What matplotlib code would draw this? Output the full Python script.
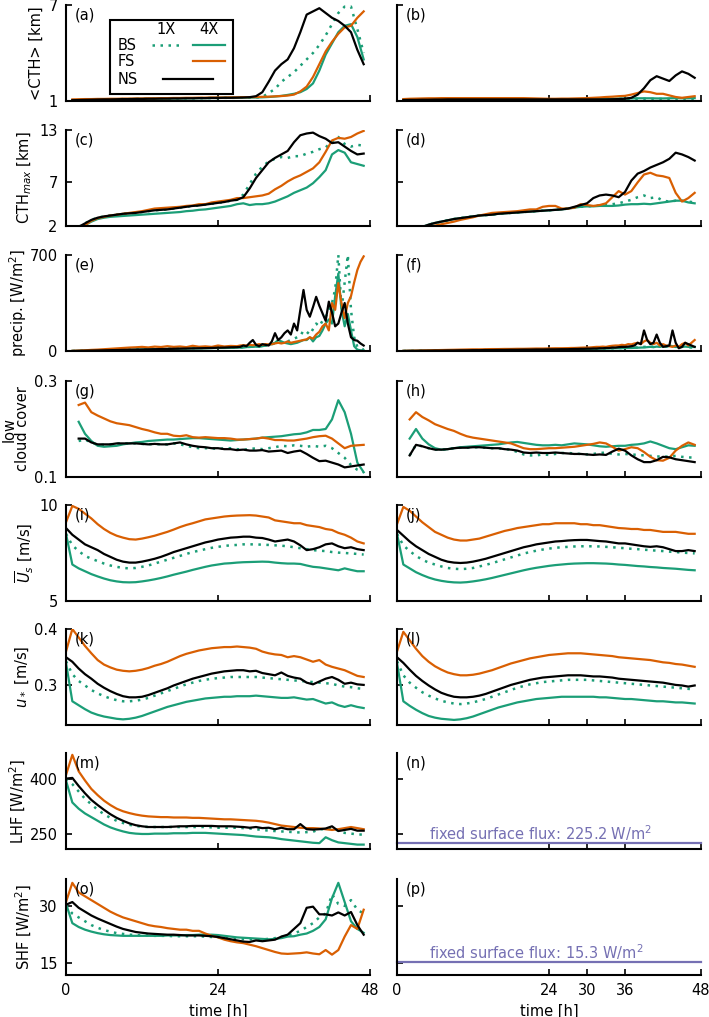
import numpy as np
import matplotlib
matplotlib.use("Agg")
import matplotlib.pyplot as plt
from matplotlib.patches import Rectangle
from matplotlib.lines import Line2D

N = np.nan
T = np.arange(48)  # hourly time axis [h]
T_P = np.concatenate([np.arange(1, 28), np.arange(27.5, 47.5, 0.5)])  # precip time axis

# ---------------- (a) <CTH> left ----------------
a_bs4 = [N,1.05,1.06,1.07,1.08,1.09,1.1,1.1,1.11,1.12,1.12,1.13,1.13,1.14,1.14,1.15,1.15,1.16,1.16,1.17,1.17,1.18,1.18,1.19,1.19,1.2,1.2,1.2,1.21,1.21,1.22,1.23,1.25,1.28,1.32,1.38,1.45,1.55,1.75,2.1,2.9,3.9,4.6,5.3,5.7,5.8,5.0,3.6]
a_bs1 = [N,1.05,1.06,1.07,1.08,1.09,1.1,1.1,1.11,1.12,1.12,1.13,1.13,1.14,1.14,1.15,1.15,1.16,1.16,1.17,1.17,1.18,1.18,1.19,1.19,1.2,1.2,1.2,1.21,1.21,1.22,1.25,1.5,1.75,2.2,2.5,2.8,3.2,3.6,4.0,4.5,5.1,5.8,6.5,6.9,6.9,5.5,4.0]
a_fs4 = [N,1.1,1.11,1.12,1.12,1.13,1.13,1.14,1.14,1.15,1.15,1.16,1.16,1.17,1.17,1.18,1.18,1.19,1.19,1.2,1.2,1.21,1.21,1.22,1.22,1.22,1.23,1.23,1.24,1.24,1.25,1.26,1.27,1.29,1.31,1.34,1.4,1.6,1.9,2.5,3.3,4.1,4.7,5.2,5.6,5.7,6.2,6.6]
a_ns = [N,1.05,1.06,1.07,1.08,1.09,1.1,1.1,1.11,1.12,1.12,1.13,1.13,1.14,1.14,1.15,1.15,1.16,1.16,1.17,1.17,1.18,1.18,1.19,1.19,1.2,1.2,1.21,1.22,1.24,1.3,1.55,2.2,2.9,3.3,3.6,4.3,5.3,6.4,6.6,6.8,6.5,6.2,6.0,5.7,5.3,4.2,3.3]

# ---------------- (b) <CTH> right ----------------
b_bs4 = [N,1.08,1.08,1.09,1.09,1.1,1.1,1.1,1.1,1.1,1.1,1.1,1.1,1.1,1.1,1.1,1.1,1.1,1.1,1.1,1.1,1.1,1.1,1.1,1.1,1.1,1.1,1.1,1.1,1.1,1.1,1.12,1.12,1.13,1.14,1.15,1.15,1.16,1.17,1.17,1.17,1.16,1.16,1.17,1.18,1.17,1.17,1.18]
b_bs1 = [N,1.08,1.08,1.09,1.09,1.1,1.1,1.1,1.1,1.1,1.1,1.1,1.1,1.1,1.1,1.1,1.1,1.1,1.1,1.1,1.1,1.1,1.1,1.1,1.1,1.1,1.1,1.1,1.1,1.1,1.1,1.11,1.11,1.12,1.12,1.13,1.13,1.14,1.14,1.14,1.13,1.13,1.13,1.12,1.12,1.12,1.12,1.12]
b_fs4 = [N,1.12,1.14,1.15,1.16,1.17,1.17,1.18,1.18,1.18,1.18,1.18,1.18,1.18,1.18,1.18,1.18,1.18,1.18,1.18,1.18,1.17,1.16,1.15,1.14,1.14,1.15,1.15,1.16,1.17,1.18,1.2,1.22,1.25,1.27,1.3,1.32,1.4,1.5,1.6,1.55,1.45,1.45,1.35,1.25,1.2,1.25,1.3]
b_ns = [N,1.06,1.07,1.07,1.08,1.08,1.09,1.09,1.1,1.1,1.1,1.1,1.1,1.1,1.1,1.1,1.1,1.1,1.1,1.1,1.1,1.1,1.1,1.1,1.1,1.1,1.1,1.1,1.1,1.1,1.1,1.1,1.1,1.1,1.11,1.12,1.14,1.2,1.4,1.8,2.3,2.55,2.4,2.25,2.6,2.85,2.7,2.45]

# ---------------- (c) CTH_max left ----------------
c_bs4 = [N,N,1.8,2.1,2.5,2.8,2.95,3.05,3.1,3.15,3.2,3.25,3.3,3.35,3.4,3.45,3.5,3.55,3.6,3.7,3.75,3.85,3.9,4.0,4.1,4.2,4.3,4.5,4.6,4.4,4.5,4.5,4.6,4.8,5.1,5.4,5.8,6.1,6.4,6.9,7.6,8.4,10.2,10.7,10.4,9.3,9.1,8.9]
c_bs1 = [N,N,1.9,2.3,2.7,2.95,3.1,3.2,3.3,3.4,3.45,3.5,3.6,3.7,3.8,3.85,3.9,4.0,4.1,4.2,4.3,4.35,4.45,4.55,4.65,4.75,4.9,5.0,5.6,6.8,8.0,8.8,9.4,9.7,9.9,9.8,10.0,10.0,10.3,10.5,10.8,11.0,11.7,12.2,11.4,11.1,11.3,11.2]
c_fs4 = [N,N,1.8,2.1,2.6,2.9,3.05,3.2,3.3,3.4,3.5,3.6,3.7,3.85,4.0,4.05,4.1,4.15,4.2,4.3,4.35,4.5,4.5,4.7,4.8,4.9,5.0,5.2,5.2,5.3,5.4,5.5,5.7,6.2,6.6,7.1,7.5,7.8,8.2,8.6,9.3,10.5,11.8,12.1,12.0,12.2,12.6,12.9]
c_ns = [N,N,1.9,2.3,2.7,2.95,3.1,3.2,3.3,3.4,3.45,3.5,3.6,3.7,3.8,3.85,3.9,4.0,4.1,4.2,4.3,4.35,4.45,4.55,4.65,4.75,4.9,5.0,5.3,6.3,7.5,8.4,9.3,9.8,10.2,10.6,11.6,12.4,12.6,12.7,12.3,12.0,11.5,11.6,11.1,10.6,10.2,10.3]

# ---------------- (d) CTH_max right ----------------
d_bs4 = [N,N,N,N,1.9,2.15,2.35,2.5,2.65,2.8,2.9,3.0,3.1,3.2,3.25,3.3,3.4,3.45,3.5,3.55,3.6,3.65,3.7,3.75,3.8,3.85,3.9,4.0,4.1,4.2,4.25,4.25,4.3,4.3,4.3,4.35,4.45,4.5,4.5,4.55,4.5,4.6,4.7,4.8,4.9,4.9,4.7,4.6]
d_bs1 = [N,N,N,N,1.9,2.15,2.35,2.5,2.65,2.8,2.9,3.0,3.1,3.2,3.25,3.3,3.4,3.45,3.5,3.55,3.6,3.65,3.7,3.75,3.8,3.85,3.9,4.0,4.1,4.2,4.25,4.3,4.35,4.4,4.5,4.6,4.8,5.0,5.3,5.5,5.2,5.3,4.9,4.8,4.9,4.9,4.8,4.7]
d_fs4 = [N,N,N,N,N,1.9,2.05,2.2,2.35,2.5,2.7,2.85,3.0,3.2,3.35,3.5,3.55,3.6,3.65,3.7,3.8,3.9,3.9,4.2,4.3,4.3,4.0,4.0,4.1,4.5,4.4,4.3,4.4,4.6,5.3,6.0,5.6,6.0,7.0,7.9,8.1,7.8,7.7,7.5,5.8,4.8,5.2,5.8]
d_ns = [N,N,N,N,1.9,2.15,2.35,2.5,2.65,2.8,2.9,3.0,3.1,3.2,3.25,3.3,3.4,3.45,3.5,3.55,3.6,3.65,3.7,3.75,3.8,3.85,3.9,4.0,4.2,4.4,4.6,5.2,5.5,5.6,5.5,5.3,5.9,7.2,8.0,8.3,8.7,9.0,9.3,9.7,10.4,10.2,9.9,9.5]

# ---------------- (e) precip left ----------------
e_bs4 = [0,1,2,3,4,5,6,7,8,9,10,11,12,13,14,15,16,17,18,19,19,20,21,22,22,23,24,
         25,25,28,30,30,32,30,35,40,45,50,60,80,70,60,55,50,55,60,70,80,80,100,70,100,110,150,200,230,200,400,565,300,180,270,150,35,10,5,5]
e_bs1 = [0,1,2,3,5,6,7,8,10,11,12,13,14,15,16,17,18,19,20,21,22,23,24,25,26,26,25,
         25,28,30,30,32,35,35,40,40,45,50,55,60,60,70,70,80,90,100,110,150,140,120,160,200,180,220,250,300,350,450,700,300,500,700,300,100,30,20,10]
e_fs4 = [1,3,5,8,10,13,16,19,22,25,27,30,26,32,29,35,30,33,28,38,31,34,30,40,33,37,35,
         40,42,40,45,42,45,50,45,50,48,50,55,60,55,60,70,60,65,70,75,80,85,100,90,120,140,180,200,150,350,300,495,350,240,350,400,500,590,650,690]
e_ns = [0,1,2,3,4,5,6,7,8,9,10,11,12,13,14,15,16,17,18,19,20,21,22,24,25,27,28,
        30,40,35,60,80,45,35,50,45,40,70,130,80,100,130,150,120,200,150,300,445,300,250,320,395,330,275,220,360,280,180,200,280,350,200,100,80,75,55,40]

# ---------------- (f) precip right ----------------
f_bs4 = [0,1,1,2,2,3,3,4,4,5,5,6,6,7,7,8,8,9,9,10,10,11,11,12,12,12,13,
         13,13,14,14,15,15,16,16,17,17,18,18,19,19,20,20,21,21,22,22,23,24,25,26,28,30,28,32,30,35,30,40,35,30,28,30,32,30,28,30]
f_bs1 = [0,1,1,2,2,3,3,4,4,5,5,6,6,7,7,8,8,9,9,10,10,11,11,12,12,12,13,
         13,14,14,15,15,16,16,17,17,18,18,19,20,20,21,22,22,23,24,25,25,26,28,30,30,35,30,40,35,30,40,30,40,30,25,30,35,30,25,30]
f_fs4 = [1,2,3,4,5,6,7,8,9,10,11,12,12,13,14,14,15,15,16,16,17,18,18,19,20,20,21,
         22,22,23,24,25,25,26,28,30,30,32,30,35,38,40,40,45,42,50,48,55,60,50,70,80,60,50,60,40,50,40,35,30,40,30,50,60,40,60,80]
f_ns = [0,1,1,2,2,3,3,4,4,5,5,6,6,7,7,8,8,9,9,10,10,11,11,12,12,13,13,
        14,15,15,16,16,17,17,18,18,20,20,22,22,25,25,28,30,30,32,35,40,60,50,150,80,50,60,120,60,30,35,40,150,60,20,30,60,50,40,30]

# ---------------- (g) low cloud cover left ----------------
g_bs4 = [N,N,0.215,0.19,0.175,0.165,0.163,0.164,0.165,0.168,0.17,0.172,0.173,0.175,0.176,0.177,0.178,0.178,0.179,0.18,0.181,0.181,0.18,0.179,0.178,0.177,0.176,0.177,0.178,0.179,0.18,0.182,0.183,0.184,0.185,0.187,0.189,0.19,0.193,0.198,0.198,0.2,0.22,0.26,0.235,0.19,0.13,0.11]
g_bs1 = [N,N,0.175,0.178,0.172,0.167,0.167,0.168,0.17,0.17,0.17,0.17,0.169,0.168,0.169,0.168,0.168,0.17,0.168,0.165,0.162,0.16,0.16,0.16,0.158,0.16,0.16,0.158,0.157,0.158,0.16,0.158,0.16,0.162,0.165,0.164,0.166,0.165,0.163,0.165,0.163,0.165,0.16,0.15,0.14,0.125,0.115,0.11]
g_fs4 = [N,N,0.25,0.255,0.235,0.228,0.222,0.216,0.212,0.21,0.208,0.204,0.2,0.197,0.193,0.19,0.19,0.186,0.185,0.187,0.183,0.182,0.183,0.182,0.181,0.181,0.18,0.178,0.178,0.179,0.18,0.182,0.18,0.177,0.177,0.176,0.176,0.178,0.18,0.183,0.185,0.186,0.18,0.17,0.16,0.165,0.166,0.167]
g_ns = [N,N,0.18,0.18,0.172,0.168,0.168,0.168,0.17,0.17,0.17,0.17,0.169,0.168,0.169,0.168,0.168,0.17,0.172,0.168,0.165,0.163,0.162,0.16,0.16,0.158,0.158,0.156,0.157,0.155,0.155,0.156,0.153,0.154,0.155,0.15,0.153,0.155,0.148,0.14,0.133,0.134,0.13,0.126,0.12,0.122,0.124,0.126]

# ---------------- (h) low cloud cover right ----------------
h_bs4 = [N,N,0.18,0.2,0.18,0.168,0.16,0.157,0.158,0.16,0.162,0.163,0.164,0.165,0.166,0.167,0.168,0.17,0.172,0.173,0.171,0.169,0.167,0.166,0.166,0.167,0.166,0.168,0.17,0.169,0.168,0.166,0.164,0.163,0.164,0.165,0.165,0.167,0.168,0.17,0.174,0.17,0.165,0.16,0.158,0.162,0.166,0.165]
h_bs1 = [N,N,0.145,0.167,0.164,0.16,0.157,0.157,0.158,0.16,0.161,0.161,0.162,0.162,0.161,0.16,0.16,0.158,0.157,0.152,0.147,0.145,0.145,0.147,0.146,0.148,0.15,0.15,0.149,0.148,0.147,0.148,0.15,0.151,0.148,0.147,0.148,0.147,0.146,0.145,0.144,0.143,0.142,0.143,0.144,0.142,0.141,0.14]
h_fs4 = [N,N,0.22,0.235,0.225,0.218,0.21,0.205,0.2,0.196,0.19,0.185,0.182,0.18,0.178,0.176,0.174,0.172,0.17,0.165,0.16,0.158,0.158,0.159,0.16,0.16,0.161,0.162,0.163,0.165,0.167,0.169,0.172,0.17,0.163,0.155,0.158,0.162,0.16,0.152,0.142,0.135,0.134,0.14,0.155,0.165,0.172,0.167]
h_ns = [N,N,0.145,0.167,0.164,0.16,0.157,0.157,0.158,0.16,0.161,0.161,0.162,0.162,0.161,0.16,0.16,0.158,0.157,0.155,0.151,0.15,0.151,0.15,0.15,0.151,0.15,0.149,0.148,0.148,0.147,0.146,0.147,0.146,0.153,0.159,0.155,0.145,0.137,0.131,0.131,0.135,0.142,0.141,0.137,0.135,0.133,0.131]

# ---------------- (i) U_s left ----------------
i_bs4 = [8.5,6.9,6.7,6.55,6.4,6.28,6.17,6.08,6.02,5.98,5.97,5.98,6.02,6.07,6.13,6.2,6.28,6.37,6.45,6.53,6.62,6.7,6.78,6.85,6.9,6.95,6.97,7.0,7.02,7.03,7.04,7.05,7.04,7.0,6.97,6.95,6.95,6.93,6.85,6.78,6.75,6.7,6.65,6.6,6.7,6.62,6.55,6.55]
i_bs1 = [8.5,7.9,7.6,7.35,7.2,7.08,6.95,6.85,6.78,6.72,6.7,6.72,6.78,6.85,6.95,7.05,7.15,7.25,7.35,7.45,7.55,7.62,7.7,7.77,7.82,7.87,7.9,7.92,7.95,7.95,7.95,7.93,7.92,7.9,7.88,7.85,7.8,7.75,7.7,7.65,7.62,7.6,7.55,7.52,7.5,7.48,7.45,7.42]
i_fs4 = [9.1,9.95,9.8,9.55,9.3,9.0,8.75,8.55,8.4,8.3,8.22,8.2,8.25,8.32,8.4,8.5,8.6,8.72,8.85,8.96,9.05,9.15,9.25,9.3,9.35,9.4,9.43,9.45,9.46,9.47,9.45,9.4,9.35,9.2,9.15,9.1,9.05,9.05,8.95,8.9,8.85,8.75,8.7,8.55,8.45,8.3,8.1,8.0]
i_ns = [8.8,8.45,8.2,7.95,7.8,7.65,7.45,7.3,7.15,7.05,7.0,7.0,7.05,7.12,7.2,7.3,7.42,7.55,7.65,7.75,7.85,7.95,8.05,8.12,8.2,8.25,8.3,8.32,8.35,8.35,8.3,8.28,8.2,8.1,8.15,8.2,8.1,7.9,7.65,7.7,7.8,7.95,8.0,7.85,7.75,7.8,7.7,7.65]

# ---------------- (j) U_s right ----------------
j_bs4 = [8.5,6.9,6.7,6.5,6.35,6.22,6.12,6.05,6.0,5.97,5.96,5.98,6.02,6.07,6.13,6.2,6.28,6.36,6.44,6.52,6.6,6.67,6.73,6.78,6.83,6.87,6.9,6.93,6.95,6.96,6.97,6.97,6.96,6.95,6.93,6.9,6.88,6.85,6.82,6.8,6.77,6.75,6.72,6.7,6.68,6.65,6.62,6.6]
j_bs1 = [8.5,7.9,7.6,7.35,7.15,7.0,6.9,6.8,6.72,6.68,6.66,6.68,6.72,6.8,6.88,6.97,7.07,7.17,7.27,7.37,7.47,7.55,7.62,7.68,7.73,7.77,7.8,7.82,7.84,7.85,7.85,7.85,7.84,7.82,7.8,7.77,7.75,7.72,7.7,7.67,7.65,7.62,7.6,7.57,7.55,7.52,7.5,7.48]
j_fs4 = [9.0,9.9,9.7,9.4,9.1,8.85,8.6,8.45,8.3,8.2,8.15,8.15,8.2,8.25,8.35,8.45,8.55,8.65,8.72,8.8,8.85,8.9,8.95,9.0,9.0,9.05,9.05,9.05,9.05,9.0,9.0,8.95,8.95,8.9,8.85,8.8,8.78,8.75,8.75,8.7,8.7,8.65,8.6,8.6,8.6,8.55,8.5,8.5]
j_ns = [8.7,8.4,8.1,7.85,7.65,7.45,7.3,7.15,7.05,7.0,6.98,7.0,7.05,7.12,7.2,7.3,7.4,7.5,7.6,7.7,7.8,7.87,7.95,8.0,8.05,8.1,8.12,8.15,8.17,8.18,8.18,8.15,8.12,8.1,8.05,8.0,8.0,7.95,7.9,7.85,7.82,7.85,7.8,7.7,7.6,7.6,7.65,7.6]

# ---------------- (k) u* left ----------------
k_bs4 = [0.34,0.272,0.265,0.258,0.252,0.248,0.245,0.243,0.241,0.24,0.241,0.243,0.246,0.25,0.254,0.258,0.262,0.265,0.268,0.271,0.273,0.275,0.277,0.278,0.279,0.28,0.28,0.281,0.281,0.281,0.282,0.281,0.28,0.279,0.278,0.278,0.279,0.277,0.275,0.276,0.272,0.268,0.27,0.265,0.262,0.265,0.262,0.26]
k_bs1 = [0.343,0.32,0.308,0.3,0.292,0.286,0.281,0.277,0.274,0.272,0.272,0.273,0.275,0.278,0.282,0.286,0.29,0.294,0.298,0.302,0.305,0.308,0.31,0.312,0.313,0.314,0.315,0.315,0.315,0.315,0.315,0.314,0.313,0.312,0.311,0.31,0.309,0.308,0.307,0.306,0.305,0.304,0.303,0.3,0.298,0.297,0.295,0.294]
k_fs4 = [0.36,0.4,0.385,0.37,0.357,0.345,0.337,0.332,0.328,0.326,0.325,0.326,0.328,0.331,0.335,0.338,0.342,0.347,0.352,0.356,0.359,0.362,0.364,0.366,0.367,0.368,0.368,0.369,0.368,0.367,0.365,0.36,0.357,0.355,0.354,0.35,0.352,0.35,0.346,0.342,0.345,0.337,0.333,0.33,0.327,0.322,0.317,0.315]
k_ns = [0.35,0.342,0.33,0.32,0.312,0.303,0.296,0.29,0.285,0.281,0.279,0.279,0.28,0.283,0.287,0.291,0.295,0.3,0.304,0.308,0.312,0.315,0.318,0.321,0.323,0.325,0.326,0.327,0.327,0.325,0.326,0.322,0.32,0.318,0.323,0.317,0.314,0.312,0.305,0.302,0.307,0.312,0.315,0.31,0.303,0.305,0.302,0.301]

# ---------------- (l) u* right ----------------
l_bs4 = [0.34,0.272,0.264,0.257,0.251,0.246,0.243,0.241,0.24,0.239,0.24,0.242,0.245,0.249,0.253,0.257,0.261,0.264,0.267,0.27,0.272,0.274,0.276,0.277,0.278,0.279,0.28,0.28,0.28,0.28,0.28,0.28,0.279,0.279,0.278,0.277,0.276,0.276,0.275,0.274,0.273,0.272,0.272,0.271,0.27,0.27,0.269,0.268]
l_bs1 = [0.343,0.318,0.305,0.296,0.288,0.282,0.277,0.273,0.27,0.268,0.267,0.268,0.27,0.273,0.276,0.28,0.284,0.288,0.292,0.296,0.299,0.302,0.304,0.306,0.307,0.308,0.309,0.31,0.31,0.31,0.31,0.309,0.308,0.307,0.306,0.305,0.304,0.303,0.302,0.301,0.3,0.299,0.298,0.297,0.296,0.295,0.294,0.293]
l_fs4 = [0.36,0.395,0.38,0.365,0.352,0.342,0.334,0.328,0.323,0.32,0.318,0.318,0.319,0.321,0.324,0.327,0.331,0.335,0.339,0.342,0.345,0.348,0.35,0.352,0.354,0.355,0.356,0.357,0.357,0.357,0.356,0.355,0.354,0.353,0.352,0.35,0.349,0.348,0.347,0.346,0.345,0.343,0.341,0.34,0.338,0.337,0.335,0.333]
l_ns = [0.35,0.34,0.328,0.317,0.308,0.3,0.293,0.287,0.283,0.28,0.279,0.279,0.28,0.282,0.285,0.289,0.293,0.297,0.301,0.304,0.307,0.31,0.312,0.314,0.315,0.316,0.317,0.318,0.318,0.318,0.317,0.316,0.316,0.315,0.314,0.312,0.311,0.31,0.309,0.308,0.307,0.306,0.305,0.303,0.301,0.3,0.298,0.3]

# ---------------- (m) LHF left ----------------
m_bs4 = [395,335,318,305,295,285,275,267,261,256,252,250,249,249,250,250,250,251,251,251,252,252,252,251,250,249,248,247,246,244,242,241,240,238,235,233,231,229,227,225,224,240,232,226,224,222,220,220]
m_bs1 = [400,385,365,345,330,315,303,293,285,279,274,271,269,268,268,268,268,268,268,268,268,268,268,267,266,266,266,266,265,264,262,260,258,257,256,255,254,253,254,255,262,262,266,258,252,250,248,247]
m_fs4 = [410,465,420,395,372,355,340,328,318,311,306,302,299,297,296,295,295,294,294,294,293,293,292,291,290,289,289,288,287,286,285,283,280,276,272,270,268,266,265,265,264,262,260,262,265,268,265,262]
m_ns = [400,402,380,360,342,328,315,303,293,285,278,273,270,268,268,268,268,269,270,270,271,271,271,271,270,270,270,269,268,266,268,265,266,262,266,262,262,276,262,261,262,264,270,257,260,263,258,258]
n_fixed = 225.2

# ---------------- (o) SHF left ----------------
o_bs4 = [30.6,25.5,24.5,23.8,23.3,22.9,22.6,22.4,22.3,22.2,22.2,22.2,22.2,22.2,22.2,22.2,22.3,22.3,22.3,22.4,22.4,22.5,22.5,22.5,22.4,22.2,22.0,21.8,21.7,21.6,21.5,21.4,21.3,21.4,21.6,22.0,22.1,22.5,22.8,23.5,24.5,26.5,32.0,36.0,31.0,26.0,24.0,23.0]
o_bs1 = [30.0,28.0,27.0,26.0,25.0,24.3,23.7,23.3,22.9,22.7,22.5,22.4,22.3,22.3,22.2,22.2,22.2,22.1,22.1,22.1,22.1,22.1,22.0,21.9,21.8,21.6,21.5,21.4,21.3,21.3,21.3,21.3,21.4,21.6,21.9,22.3,22.8,23.5,24.5,25.5,27.0,28.0,33.0,30.5,30.0,31.5,29.0,28.0]
o_fs4 = [31.0,36.0,33.5,32.5,31.5,30.5,29.5,28.5,27.7,27.0,26.5,26.0,25.5,25.0,24.7,24.5,24.2,24.0,23.8,23.8,23.5,23.5,22.8,22.2,21.8,21.2,20.8,20.5,20.3,19.9,19.5,19.0,18.5,18.0,17.6,17.5,17.6,17.7,17.9,17.6,17.4,18.5,17.3,18.5,22.0,25.0,24.0,29.0]
o_ns = [30.3,31.0,29.5,28.5,27.5,26.7,26.0,25.3,24.6,24.0,23.6,23.2,23.0,22.8,22.7,22.6,22.5,22.5,22.4,22.3,22.3,22.3,22.2,22.1,21.9,21.6,21.3,21.0,20.7,20.6,21.0,20.8,21.0,21.2,22.0,22.5,24.0,25.5,29.5,29.8,27.8,27.8,27.5,28.3,27.5,28.4,25.0,22.5]
p_fixed = 15.3

# ---------------- labels ----------------
ylabels = ["<CTH> [km]", "CTH$_{max}$ [km]", "precip. [W/m$^2$]", "low\ncloud cover",
           r"$\overline{U}_s$ [m/s]", r"$u_*$ [m/s]", "LHF [W/m$^2$]", "SHF [W/m$^2$]"]
ylims = [(1, 7), (2, 13), (0, 700), (0.1, 0.3), (5, 10), (0.23, 0.4), (208, 470), (12, 37)]
yticks = [[1, 7], [2, 7, 13], [0, 700], [0.1, 0.3], [5, 10], [0.3, 0.4], [250, 400], [15, 30]]
ytick_labels = [["1", "7"], ["2", "7", "13"], ["0", "700"], ["0.1", "0.3"], ["5", "10"],
                ["0.3", "0.4"], ["250", "400"], ["15", "30"]]
xticks_left = [0, 24, 48]
xticks_right = [0, 24, 30, 36, 48]
panel_letters = "abcdefghijklmnop"

GREEN = "#1b9e77"
ORANGE = "#d95f02"
BLACK = "#000000"
PURPLE = "#7570b3"
DOT = (0, (1, 2.2))
LW = 1.6

left_data = [
    (T, a_bs1, a_bs4, a_fs4, a_ns), (T, c_bs1, c_bs4, c_fs4, c_ns), (T_P, e_bs1, e_bs4, e_fs4, e_ns),
    (T, g_bs1, g_bs4, g_fs4, g_ns), (T, i_bs1, i_bs4, i_fs4, i_ns), (T, k_bs1, k_bs4, k_fs4, k_ns),
    (T, m_bs1, m_bs4, m_fs4, m_ns), (T, o_bs1, o_bs4, o_fs4, o_ns)]
right_data = [
    (T, b_bs1, b_bs4, b_fs4, b_ns), (T, d_bs1, d_bs4, d_fs4, d_ns), (T_P, f_bs1, f_bs4, f_fs4, f_ns),
    (T, h_bs1, h_bs4, h_fs4, h_ns), (T, j_bs1, j_bs4, j_fs4, j_ns), (T, l_bs1, l_bs4, l_fs4, l_ns),
    None, None]

plt.rcParams['font.family'] = ['DejaVu Sans']
plt.rcParams['mathtext.fontset'] = 'dejavusans'
FS = 10.5

W, H = 709, 1017
fig = plt.figure(figsize=(W / 100, H / 100), dpi=100)
row_tops = [5, 130, 255, 381, 505, 629, 753, 879]
AX_H = 96
col_x = [66, 397]
AX_W = 304
# horizontal centre (px) of each y label
label_center_px = [36, 25, 18, 16, 25, 22, 18, 24]


def style_axes(ax, row, right):
    for s in ["top", "right"]:
        ax.spines[s].set_visible(False)
    for s in ["left", "bottom"]:
        ax.spines[s].set_linewidth(1.5)
    ax.set_xlim(0, 48)
    ax.set_ylim(*ylims[row])
    ax.set_yticks(yticks[row])
    ax.tick_params(direction="in", length=4, width=1.2, labelsize=FS, pad=6)
    ax.set_xticks(xticks_right if right else xticks_left)
    if right:
        ax.set_yticklabels([])
    else:
        ax.set_yticklabels(ytick_labels[row])
        lab = ax.set_ylabel(ylabels[row], fontsize=FS, linespacing=0.85)
        lab.set_verticalalignment("center")
        ax.yaxis.set_label_coords((label_center_px[row] - col_x[0]) / AX_W, 0.5)
    if row == 7:
        ax.set_xlabel("time [h]", fontsize=FS)
    else:
        ax.set_xticklabels([])
    letter = panel_letters[2 * row + (1 if right else 0)]
    ax.text(0.03, 0.97, f"({letter})", transform=ax.transAxes, fontsize=FS, va="top", ha="left")


def plot_series(ax, d):
    t, bs1, bs4, fs4, ns = d
    ax.plot(t, np.array(bs1, float), color=GREEN, lw=1.8, linestyle=DOT)
    ax.plot(t, np.array(bs4, float), color=GREEN, lw=LW)
    ax.plot(t, np.array(fs4, float), color=ORANGE, lw=LW)
    ax.plot(t, np.array(ns, float), color=BLACK, lw=LW)


axes = []
for row in range(8):
    for col in range(2):
        x0 = col_x[col] / W
        y0 = 1 - (row_tops[row] + AX_H) / H
        ax = fig.add_axes([x0, y0, AX_W / W, AX_H / H])
        ax.patch.set_alpha(0)
        right = col == 1
        style_axes(ax, row, right)
        if right:
            if right_data[row] is not None:
                plot_series(ax, right_data[row])
            else:
                val = n_fixed if row == 6 else p_fixed
                ax.plot([0, 48], [val, val], color=PURPLE, lw=LW, clip_on=False)
                ax.text(5, val, f"fixed surface flux: {val} W/m$^2$", color=PURPLE,
                        fontsize=FS, va="bottom", ha="left")
        else:
            plot_series(ax, left_data[row])
        axes.append(ax)

# legend in panel (a)
axa = axes[0]
tr = axa.transAxes
axa.add_patch(Rectangle((0.145, 0.072), 0.404, 0.773, transform=tr, fill=True,
                        facecolor="white", edgecolor="black", lw=1.5, zorder=5))
axa.text(0.329, 0.74, "1X", transform=tr, fontsize=FS, ha="center", va="center", zorder=6)
axa.text(0.47, 0.74, "4X", transform=tr, fontsize=FS, ha="center", va="center", zorder=6)
rows_y = [0.58, 0.415, 0.227]
for name, yy in zip(["BS", "FS", "NS"], rows_y):
    axa.text(0.171, yy, name, transform=tr, fontsize=FS, ha="left", va="center", zorder=6)
axa.add_line(Line2D([0.283, 0.375], [rows_y[0]] * 2, transform=tr, color=GREEN, lw=1.8, linestyle=DOT, zorder=6))
axa.add_line(Line2D([0.418, 0.523], [rows_y[0]] * 2, transform=tr, color=GREEN, lw=LW, zorder=6))
axa.add_line(Line2D([0.418, 0.523], [rows_y[1]] * 2, transform=tr, color=ORANGE, lw=LW, zorder=6))
axa.add_line(Line2D([0.319, 0.484], [rows_y[2]] * 2, transform=tr, color=BLACK, lw=LW, zorder=6))

fig.savefig("out.png", dpi=100)
